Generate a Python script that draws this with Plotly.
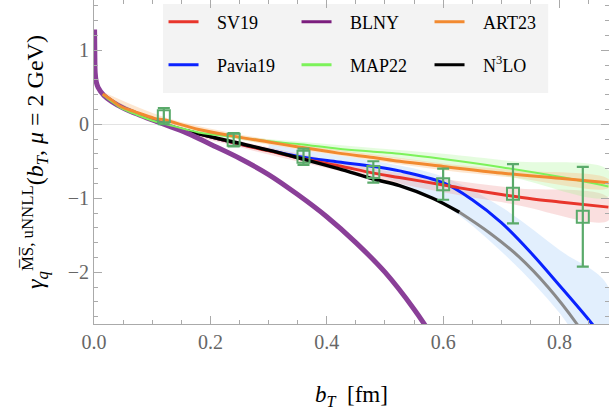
import plotly.graph_objects as go

# ---- data ----
b_blny = [0.001, 0.0015, 0.002, 0.004, 0.007, 0.017, 0.03, 0.05, 0.08, 0.12, 0.16,
          0.20, 0.25, 0.30, 0.35, 0.40, 0.45, 0.50, 0.55, 0.58]
y_blny = [1.28, 0.90, 0.70, 0.57, 0.50, 0.39, 0.31, 0.22, 0.12, 0.0, -0.12,
          -0.27, -0.46, -0.68, -0.95, -1.25, -1.60, -2.00, -2.50, -2.85]

b_sv19 = [0.104, 0.12, 0.18, 0.24, 0.30, 0.354, 0.42, 0.48,
          0.525, 0.60, 0.628, 0.70, 0.754, 0.80, 0.884]
y_sv19 = [0.04, 0.0, -0.13, -0.25, -0.36, -0.46, -0.56, -0.66,
          -0.72, -0.82, -0.86, -0.95, -1.01, -1.05, -1.12]

b_art23 = [0.015, 0.03, 0.046, 0.07, 0.104, 0.12, 0.18, 0.24, 0.30, 0.354, 0.42, 0.48,
           0.525, 0.60, 0.70, 0.80, 0.884]
y_art23 = [0.41, 0.33, 0.24, 0.17, 0.08, 0.06, -0.07, -0.16, -0.24, -0.31, -0.39, -0.45,
           -0.50, -0.57, -0.66, -0.73, -0.79]

b_map22 = [0.015, 0.03, 0.046, 0.07, 0.104, 0.12, 0.18, 0.24, 0.30, 0.354, 0.42, 0.48,
           0.525, 0.60, 0.70, 0.80, 0.884]
y_map22 = [0.40, 0.31, 0.22, 0.14, 0.04, 0.01, -0.11, -0.17, -0.23, -0.27, -0.33, -0.37,
           -0.40, -0.47, -0.58, -0.71, -0.84]

b_pavia = [0.104, 0.12, 0.18, 0.24, 0.30, 0.354, 0.42, 0.48,
           0.525, 0.60, 0.65, 0.70, 0.75, 0.80, 0.855, 0.87]
y_pavia = [0.04, 0.0, -0.13, -0.25, -0.35, -0.44, -0.51, -0.57,
           -0.63, -0.79, -1.02, -1.33, -1.73, -2.18, -2.69, -2.85]

b_n3lo = [0.16, 0.18, 0.24, 0.30, 0.354, 0.42, 0.48, 0.525, 0.582, 0.628]
y_n3lo = [-0.09, -0.13, -0.24, -0.35, -0.46, -0.60, -0.74, -0.83, -1.00, -1.19]
b_n3lo_tail = [0.628, 0.68, 0.73, 0.78, 0.829, 0.84]
y_n3lo_tail = [-1.19, -1.47, -1.79, -2.20, -2.69, -2.82]

# uncertainty bands (b, upper, lower)
band_b = [0.015, 0.12, 0.24, 0.36, 0.48, 0.60, 0.72, 0.884]
sv19_hi = [0.41, 0.02, -0.21, -0.41, -0.60, -0.74, -0.86, -0.99]
sv19_lo = [0.39, -0.03, -0.29, -0.52, -0.73, -0.92, -1.08, -1.30]
art23_hi = [0.44, 0.10, -0.12, -0.28, -0.41, -0.53, -0.62, -0.74]
art23_lo = [0.37, 0.03, -0.19, -0.35, -0.49, -0.62, -0.72, -0.86]
map22_hi = [0.41, 0.03, -0.15, -0.24, -0.32, -0.40, -0.50, -0.62]
map22_lo = [0.37, -0.02, -0.20, -0.31, -0.42, -0.55, -0.72, -0.98]

pavia_band_b = [0.30, 0.40, 0.50, 0.60, 0.70, 0.80, 0.884]
pavia_hi = [-0.27, -0.40, -0.52, -0.71, -1.12, -1.70, -2.20]
pavia_lo = [-0.33, -0.52, -0.72, -1.08, -1.72, -2.55, -3.50]

# lattice points
b_pts = [0.12, 0.24, 0.36, 0.48, 0.60, 0.72, 0.84]
y_pts = [0.11, -0.21, -0.44, -0.645, -0.81, -0.94, -1.25]
err_pts = [0.11, 0.09, 0.11, 0.145, 0.21, 0.40, 0.675]

x_ticks = [0.0, 0.2, 0.4, 0.6, 0.8]
y_ticks = [-2, -1, 0, 1]

RED = "#e8352b"
BLUE = "#0a22ff"
ORANGE = "#f28a30"
GREEN = "#7cf25a"
PURPLE = "#8a3f98"
PTS = "#5aaa6a"
FONT = "Liberation Serif"
SP = "\u00a0\u00a0\u00a0"


def band(xs, hi, lo, color):
    return go.Scatter(x=xs + xs[::-1], y=hi + lo[::-1], fill="toself", fillcolor=color,
                      line=dict(width=0, shape="spline"), mode="lines", showlegend=False,
                      hoverinfo="skip")


fig = go.Figure()

# bands
fig.add_trace(band(pavia_band_b, pavia_hi, pavia_lo, "rgba(190,220,250,0.45)"))
fig.add_trace(band(band_b, sv19_hi, sv19_lo, "rgba(240,150,150,0.30)"))
fig.add_trace(band(band_b, map22_hi, map22_lo, "rgba(170,245,150,0.30)"))
fig.add_trace(band(band_b, art23_hi, art23_lo, "rgba(250,195,140,0.40)"))

# central curves
fig.add_trace(go.Scatter(x=b_pavia, y=y_pavia, mode="lines", line=dict(color=BLUE, width=3, shape="spline"),
                         showlegend=False))
fig.add_trace(go.Scatter(x=b_sv19, y=y_sv19, mode="lines", line=dict(color=RED, width=3, shape="spline"),
                         showlegend=False))
fig.add_trace(go.Scatter(x=b_n3lo, y=y_n3lo, mode="lines", line=dict(color="black", width=3.5, shape="spline"),
                         showlegend=False))
fig.add_trace(go.Scatter(x=b_n3lo_tail, y=y_n3lo_tail, mode="lines",
                         line=dict(color="#8a8a8a", width=3, shape="spline"), showlegend=False))
fig.add_trace(go.Scatter(x=b_blny, y=y_blny, mode="lines", line=dict(color=PURPLE, width=5, shape="spline"),
                         showlegend=False))
fig.add_trace(go.Scatter(x=b_map22, y=y_map22, mode="lines", line=dict(color=GREEN, width=2, shape="spline"),
                         showlegend=False))
fig.add_trace(go.Scatter(x=b_art23, y=y_art23, mode="lines", line=dict(color=ORANGE, width=3, shape="spline"),
                         showlegend=False))

# lattice points
fig.add_trace(go.Scatter(x=b_pts, y=y_pts, mode="markers",
                         marker=dict(symbol="square-open", size=12, color=PTS, line=dict(width=2, color=PTS)),
                         error_y=dict(type="data", array=err_pts, color=PTS, thickness=2.2, width=6),
                         showlegend=False))

# legend entries (two rows)
row1 = [("SV19", RED), ("BLNY", "#7b1e7e"), ("ART23", ORANGE)]
row2 = [("Pavia19", BLUE), ("MAP22", GREEN), ("N<sup>3</sup>LO", "black")]
for name, col in row1:
    fig.add_trace(go.Scatter(x=[None], y=[None], mode="lines", name=SP + name,
                             line=dict(color=col, width=3), legend="legend"))
for name, col in row2:
    fig.add_trace(go.Scatter(x=[None], y=[None], mode="lines", name=SP + name,
                             line=dict(color=col, width=3), legend="legend2"))

legend_common = dict(orientation="h", xanchor="left", yanchor="middle", entrywidth=88,
                     entrywidthmode="pixels", bgcolor="rgba(0,0,0,0)",
                     font=dict(family=FONT, size=18, color="black"))

axis_common = dict(showline=True, linecolor="#aaaaaa", linewidth=1, mirror="ticks", ticks="inside",
                   tickcolor="#aaaaaa", ticklen=8, showgrid=False, automargin=False,
                   tickfont=dict(family=FONT, size=20, color="#666666"))

fig.update_layout(
    width=609, height=410,
    margin=dict(l=94, r=0, t=0, b=86, autoexpand=False),
    paper_bgcolor="white", plot_bgcolor="white",
    legend=dict(x=0.135, y=0.932, **legend_common),
    legend2=dict(x=0.135, y=0.799, **legend_common),
    xaxis=dict(range=[0, 0.885], tickvals=x_ticks, tickformat=".1f", zeroline=False,
               minor=dict(dtick=0.05, tick0=0, ticks="inside", ticklen=4, tickcolor="#aaaaaa"),
               title=dict(text="<i>b<sub>T</sub></i>  [fm]", font=dict(family=FONT, size=23, color="black"),
                          standoff=34),
               **axis_common),
    yaxis=dict(range=[-2.7, 1.68], tickvals=y_ticks, zeroline=True, zerolinecolor="#e3e3e3",
               zerolinewidth=1,
               minor=dict(dtick=0.2, tick0=0, ticks="inside", ticklen=4, tickcolor="#aaaaaa"),
               title=dict(text="<i>γ<sub>q</sub></i><sup>M\u0305S\u0305, uNNLL</sup>(<i>b<sub>T</sub></i>, <i>μ</i> = 2 GeV)",
                          font=dict(family=FONT, size=24, color="black"), standoff=17),
               **axis_common),
    shapes=[dict(type="rect", xref="paper", yref="paper", x0=0.134, x1=0.882, y0=0.713, y1=0.988,
                 fillcolor="#f3f3f3", line=dict(width=0), layer="below")],
)

fig.write_html("out.html", config={"displayModeBar": False},
               post_script="document.body.style.margin='0';")
